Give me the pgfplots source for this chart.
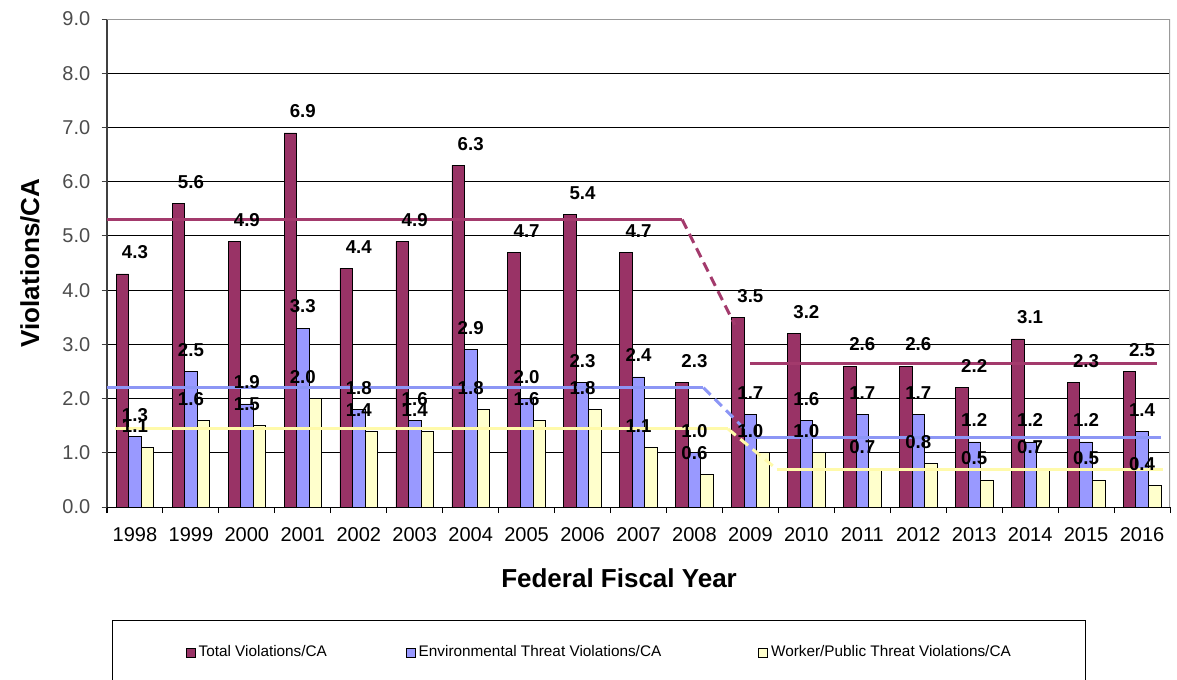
\documentclass[border=0pt]{standalone}
\usepackage{fontspec}
\setmainfont{Liberation Sans}
\usepackage{pgfplots}
\usepackage{pgfplotstable}
\pgfplotsset{compat=1.18}

\definecolor{totc}{RGB}{153,51,102}
\definecolor{envc}{RGB}{153,153,255}
\definecolor{wrkc}{RGB}{255,255,204}
\definecolor{totl}{RGB}{163,58,108}
\definecolor{envl}{RGB}{140,150,245}
\definecolor{wrkl}{RGB}{255,250,170}

% violations per CA, by federal fiscal year (0 = 1998)
\pgfplotstableread{
x tot env wrk
0  4.3 1.3 1.1
1  5.6 2.5 1.6
2  4.9 1.9 1.5
3  6.9 3.3 2.0
4  4.4 1.8 1.4
5  4.9 1.6 1.4
6  6.3 2.9 1.8
7  4.7 2.0 1.6
8  5.4 2.3 1.8
9  4.7 2.4 1.1
10 2.3 1.0 0.6
11 3.5 1.7 1.0
12 3.2 1.6 1.0
13 2.6 1.7 0.7
14 2.6 1.7 0.8
15 2.2 1.2 0.5
16 3.1 1.2 0.7
17 2.3 1.2 0.5
18 2.5 1.4 0.4
}\vdata

\pgfplotsset{
  sqlegend/.style={legend image code/.code={\draw[##1] (0pt,-3.4pt) rectangle (6.8pt,3.4pt);}},
  barsty/.style={ybar, bar width=0.224, draw=black, line width=0.5pt, sqlegend,
    nodes near coords={\pgfmathprintnumber[fixed,fixed zerofill,precision=1,assume math mode=true]{\pgfplotspointmeta}},
    every node near coord/.append style={font=\bfseries\fontsize{14}{16}\selectfont, text=black, inner sep=0pt, anchor=south, yshift=11pt}},
  avgline/.style={line width=2.25pt, forget plot},
}

\begin{document}
\begin{tikzpicture}
\useasboundingbox (0,0) rectangle (882.75pt,509.25pt);
\begin{axis}[
  at={(80.25pt,129pt)}, anchor=south west,
  scale only axis, width=797.25pt, height=366pt,
  xmin=-0.5, xmax=18.5, ymin=0, ymax=9,
  axis x line*=bottom, axis y line*=left,
  x axis line style={black, line width=0.75pt},
  y axis line style={black!75, line width=0.75pt},
  xtick={0,...,18},
  xticklabels={1998,1999,2000,2001,2002,2003,2004,2005,2006,2007,2008,2009,2010,2011,2012,2013,2014,2015,2016},
  minor xtick={-0.5,0.5,...,18.5},
  major x tick style={draw=none},
  minor x tick style={black, line width=0.75pt},
  minor tick length=4.5pt,
  major tick length=4pt,
  ytick={0,...,9},
  y tick style={black!75, line width=0.75pt},
  tick align=outside,
  ymajorgrids, grid style={black, line width=0.75pt},
  /pgf/number format/assume math mode=true,
  y tick label style={/pgf/number format/fixed, /pgf/number format/fixed zerofill, /pgf/number format/precision=1, text=black!70, xshift=-5pt},
  x tick label style={yshift=-8pt},
  tick label style={font=\fontsize{15}{18}\selectfont},
  xlabel={Federal Fiscal Year},
  ylabel={Violations/CA},
  every axis x label/.style={at={(axis description cs:0.4817,-0.1455)}, anchor=center, font=\bfseries\fontsize{19.5}{22}\selectfont},
  every axis y label/.style={at={(axis description cs:-0.0724,0.5)}, rotate=90, anchor=center, font=\bfseries\fontsize{19.5}{22}\selectfont},
  legend columns=3,
  legend style={at={(0.0044,-0.2316)}, anchor=north west, draw=black, line width=0.75pt,
    inner xsep=55pt, inner ysep=18pt, font=\fontsize{11.5}{13}\selectfont,
    nodes={inner sep=1pt},
    /tikz/every odd column/.append style={column sep=1.5pt},
    /tikz/column 2/.style={column sep=58pt},
    /tikz/column 4/.style={column sep=71.5pt}},
]
\addplot[barsty, bar shift=-0.224, fill=totc] table[x=x,y=tot]{\vdata};
\addplot[barsty, bar shift=0, fill=envc] table[x=x,y=env]{\vdata};
\addplot[barsty, bar shift=0.224, fill=wrkc] table[x=x,y=wrk]{\vdata};
\legend{Total Violations/CA, Environmental Threat Violations/CA, Worker/Public Threat Violations/CA}

% averages before and after 2009
\addplot[avgline, totl] coordinates {(-0.5,5.30) (9.78,5.30)};
\addplot[avgline, totl, dash pattern=on 7.5pt off 4.5pt] coordinates {(9.78,5.30) (10.72,3.36)};
\addplot[avgline, totl] coordinates {(10.99,2.64) (18.27,2.64)};
\addplot[avgline, envl] coordinates {(-0.5,2.20) (10.16,2.20)};
\addplot[avgline, envl, dash pattern=on 7.5pt off 4.5pt] coordinates {(10.16,2.20) (11.05,1.28)};
\addplot[avgline, envl] coordinates {(11.05,1.28) (18.34,1.28)};
\addplot[avgline, wrkl] coordinates {(-0.35,1.44) (10.6,1.44)};
\addplot[avgline, wrkl, dash pattern=on 7.5pt off 4.5pt] coordinates {(10.6,1.44) (11.47,0.70)};
\addplot[avgline, wrkl] coordinates {(11.47,0.69) (18.37,0.69)};

\draw[gray!80, line width=1.5pt] (rel axis cs:0,1) -- (rel axis cs:1,1) -- (rel axis cs:1,0);
\end{axis}
\end{tikzpicture}
\end{document}
